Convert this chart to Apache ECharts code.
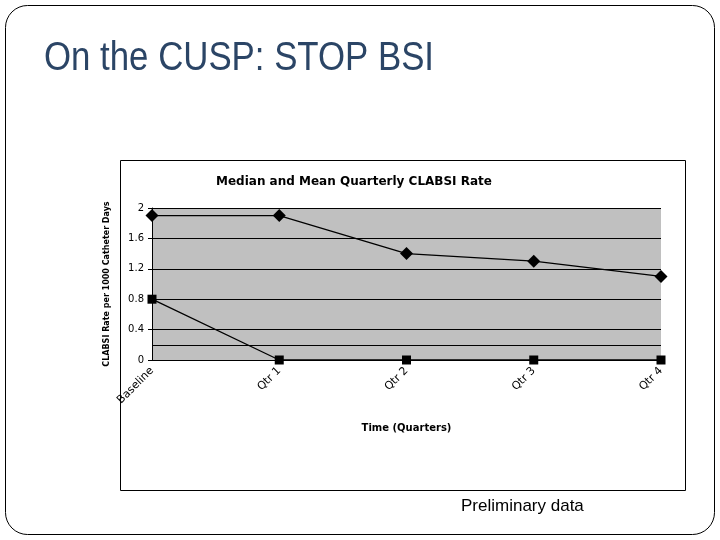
<!DOCTYPE html>
<html><head><meta charset="utf-8">
<script src="https://cdn.jsdelivr.net/npm/echarts@6/dist/echarts.min.js"></script>
<style>html,body{margin:0;padding:0;background:#fff}#c{width:720px;height:540px}</style>
</head><body><div id="c"></div>
<script>
var categories = ['Baseline', 'Qtr 1', 'Qtr 2', 'Qtr 3', 'Qtr 4'];
var meanRate = [1.9, 1.9, 1.4, 1.3, 1.1];
var medianRate = [0.8, 0, 0, 0, 0];
var extraGridValue = 0.2;

var chart = echarts.init(document.getElementById('c'), null, {renderer: 'canvas'});
var font = 'DejaVu Sans, Verdana, sans-serif';
chart.setOption({
  animation: false,
  backgroundColor: '#fff',
  title: {
    text: 'Median and Mean Quarterly CLABSI Rate',
    left: 349, top: 171, textAlign: 'center',
    textStyle: {fontFamily: font, fontSize: 12, fontWeight: 'bold', color: '#000'}
  },
  graphic: [
    {type: 'rect', shape: {x: 5.5, y: 5.5, width: 709, height: 529, r: 22}, style: {fill: 'none', stroke: '#000', lineWidth: 1}, z: -10},
    {type: 'rect', shape: {x: 120.5, y: 160.5, width: 565, height: 330}, style: {fill: 'none', stroke: '#000', lineWidth: 1}, z: -9},
    {type: 'text', x: 44, y: 39, scaleX: 0.87, style: {text: 'On the CUSP: STOP BSI', fill: '#2b4566', font: '40px "Liberation Sans", Arial, sans-serif'}},
    {type: 'text', left: 461, top: 498, style: {text: 'Preliminary data', fill: '#000', font: '17px "Liberation Sans", Arial, sans-serif'}}
  ],
  grid: {left: 152, right: 59, top: 208, bottom: 180, show: true, backgroundColor: '#c0c0c0', borderWidth: 0},
  xAxis: {
    type: 'category', data: categories, boundaryGap: false,
    name: 'Time (Quarters)', nameLocation: 'middle', nameGap: 63,
    nameTextStyle: {fontFamily: font, fontSize: 10, fontWeight: 'bold', color: '#000'},
    axisLine: {lineStyle: {color: '#000', width: 1}},
    axisTick: {show: false},
    axisLabel: {rotate: 45, fontFamily: font, fontSize: 11, color: '#000', margin: 9},
    splitLine: {show: false}
  },
  yAxis: {
    type: 'value', min: 0, max: 2, interval: 0.4,
    name: 'CLABSI Rate per 1000 Catheter Days', nameLocation: 'middle', nameGap: 41,
    nameTextStyle: {fontFamily: font, fontSize: 8, fontWeight: 'bold', color: '#000'},
    axisLine: {show: true, lineStyle: {color: '#000', width: 1}},
    axisTick: {show: true, length: 4, lineStyle: {color: '#000'}},
    axisLabel: {fontFamily: font, fontSize: 10, color: '#000', margin: 8},
    splitLine: {show: true, lineStyle: {color: '#000', width: 1}}
  },
  series: [
    {
      name: 'Mean', type: 'line', data: meanRate,
      symbol: 'diamond', symbolSize: 13,
      lineStyle: {color: '#000', width: 1.3},
      itemStyle: {color: '#000'},
      markLine: {silent: true, symbol: 'none', label: {show: false},
        lineStyle: {color: '#000', type: 'solid', width: 1},
        data: [{yAxis: extraGridValue}]}
    },
    {
      name: 'Median', type: 'line', data: medianRate,
      symbol: 'rect', symbolSize: 9,
      lineStyle: {color: '#000', width: 1.3},
      itemStyle: {color: '#000'}
    }
  ]
});
</script></body></html>
